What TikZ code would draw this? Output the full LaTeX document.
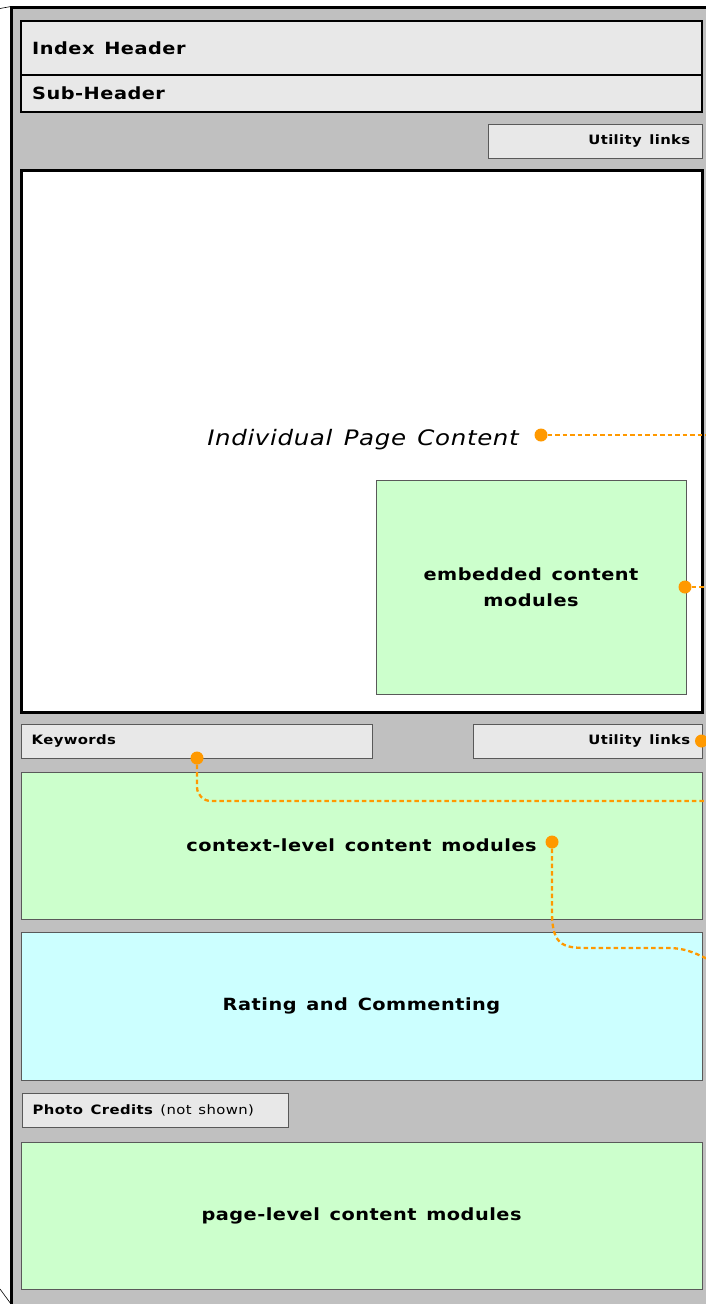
\documentclass[tikz,border=0pt]{standalone}
\usepackage{fontspec}
\setmainfont{DejaVu Sans}[FakeStretch=1.15, LetterSpace=3, WordSpace=1.35]
\definecolor{panel}{HTML}{C0C0C0}
\definecolor{lgray}{HTML}{E8E8E8}
\definecolor{lgreen}{HTML}{CCFFCC}
\definecolor{lcyan}{HTML}{CCFFFF}
\definecolor{orng}{HTML}{FF9900}
\begin{document}
\begin{tikzpicture}[x=1pt,y=-1pt,
  bar/.style={draw=black, line width=2pt, fill=lgray, inner sep=0pt},
  bartext/.style={inner sep=0pt, font=\bfseries\fontsize{16.8}{20}\selectfont},
  smallbar/.style={draw=black!65, line width=1pt, fill=lgray, inner sep=0pt},
  smalltext/.style={inner sep=0pt, font=\bfseries\fontsize{12.9}{15}\selectfont},
  module/.style={draw=black!65, line width=1pt, inner sep=0pt, align=center,
     font=\bfseries\fontsize{16.8}{26}\selectfont},
  dot/.style={circle, fill=orng, inner sep=0pt, minimum size=13pt},
  conn/.style={draw=orng, line width=2.3pt, dash pattern=on 4.5pt off 3pt}]
\useasboundingbox (0,0) rectangle (706,1304);
\begin{scope}
\clip (0,0) rectangle (706,1304);
\fill[panel] (11,7) rectangle (730,1330);
\draw[line width=3pt] (11,1330) -- (11,7) -- (730,7);
\draw[line width=0.6pt] (0,8.5) -- (11,6.5);
\draw[line width=0.6pt] (0,1289) -- (11,1304);

% headers
\node[bar, minimum width=681pt, minimum height=54pt] (ih) at (361.5,48) {};
\node[bartext, anchor=west] (iht) at ([xshift=12pt]ih.west) {Index Header};
\node[bar, minimum width=681pt, minimum height=37pt] (sh) at (361.5,93.5) {};
\node[bartext, anchor=west] (sht) at ([xshift=12pt]sh.west) {Sub-Header};
\node[smallbar, minimum width=214pt, minimum height=34pt] (ut) at (595,141) {};
\node[smalltext, anchor=east] (utt) at ([xshift=-12pt]ut.east) {Utility links};

% main content
\node[draw=black, line width=3pt, fill=white, minimum width=681pt, minimum height=542pt] (main) at (361.5,441) {};
\node[font=\itshape\fontsize{21.3}{25}\selectfont, inner sep=0pt] (ipc) at (363,440) {Individual Page Content};
\node[module, fill=lgreen, minimum width=310pt, minimum height=214pt] (emb) at (531,587) {embedded content\\modules};

% middle row
\node[smallbar, minimum width=351pt, minimum height=34pt] (kw) at (196.5,741) {};
\node[smalltext, anchor=west] (kwt) at ([xshift=11pt]kw.west) {Keywords};
\node[smallbar, minimum width=229pt, minimum height=34pt] (ub) at (587.5,741) {};
\node[smalltext, anchor=east] (ubt) at ([xshift=-12pt]ub.east) {Utility links};

\node[module, fill=lgreen, minimum width=681pt, minimum height=147pt] (ctx) at (361.5,845.5) {context-level content modules};
\node[module, fill=lcyan, minimum width=681pt, minimum height=148pt] (rc) at (361.5,1006) {Rating and Commenting};
\node[smallbar, minimum width=266pt, minimum height=34pt] (pc) at (155,1110) {};
\node[smalltext, anchor=west] (pct) at ([xshift=11pt]pc.west) {Photo Credits \mdseries(not shown)};
\node[module, fill=lgreen, minimum width=681pt, minimum height=147pt] (pg) at (361.5,1215.5) {page-level content modules};

% callout dots
\node[dot] (d1) at (541,435) {};
\node[dot] (d2) at (685,587) {};
\node[dot] (d3) at (197,758) {};
\node[dot] (d4) at (552,842) {};
\node[dot] (d5) at (701.5,741) {};
\coordinate (e1) at (710,435);
\coordinate (e2) at (710,587);
\coordinate (e3) at (710,801);
\coordinate (e4) at (710,960);

\draw[conn] (d1.east) -- (e1);
\draw[conn] (d2.east) -- (e2);
\draw[conn, rounded corners=14pt] (d3.south) |- (e3);
\draw[conn] (d4.south) -- (552,912) .. controls (552,948) and (565,948) .. (592,948) -- (668,948) .. controls (688,948) and (698,955) .. (e4);
\end{scope}
\end{tikzpicture}
\end{document}
